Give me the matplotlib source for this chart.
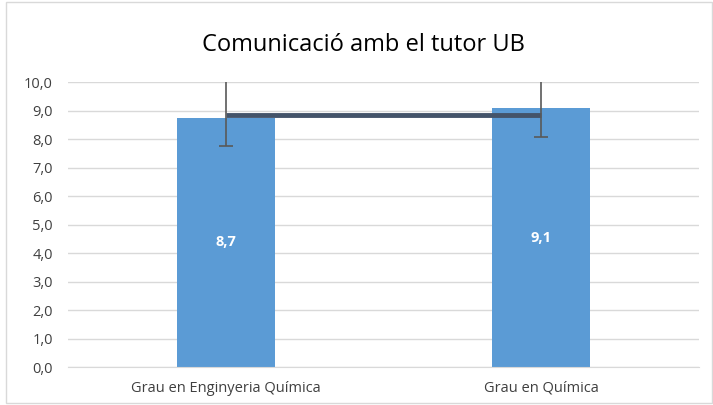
import numpy as np
import matplotlib.pyplot as plt
from matplotlib.patches import Rectangle

categories = ["Grau en Enginyeria Química", "Grau en Química"]
values = np.array([8.75, 9.08])
err_low = np.array([1.0, 1.0])
err_high = np.array([1.5, 1.5])  # surten per damunt de l'eix (retallades a 10)
mitjana = 8.85
labels = ["8,7", "9,1"]
yticks = np.arange(0, 11, 1)

plt.rcParams['font.family'] = ['Open Sans', 'DejaVu Sans']

fig = plt.figure(figsize=(7.13, 4.05), dpi=100)
ax = fig.add_axes([0.0954, 0.0938, 0.885, 0.7037])

x = np.arange(len(categories))
ax.bar(x, values, width=0.31, color="#5B9BD5", zorder=2)
ax.errorbar(x, values, yerr=[err_low, err_high], fmt="none", ecolor="#595959",
            elinewidth=1.2, capsize=5, capthick=1.2, zorder=4)
ax.plot(x, [mitjana, mitjana], color="#44546A", linewidth=3.5, zorder=3,
        solid_capstyle="butt")

for xi, v, lab in zip(x, values, labels):
    ax.text(xi, v / 2, lab, ha="center", va="center", color="white",
            fontsize=10.5, fontweight="bold", zorder=5)

ax.set_xlim(-0.5, 1.5)
ax.set_ylim(0, 10)
ax.set_yticks(yticks)
ax.set_yticklabels([f"{t:.1f}".replace(".", ",") for t in yticks])
ax.set_xticks(x)
ax.set_xticklabels(categories)
ax.tick_params(axis="both", length=0, labelsize=10.5, colors="#404040")
ax.tick_params(axis="x", pad=10)
ax.tick_params(axis="y", pad=11)
ax.grid(axis="y", color="#D9D9D9", linewidth=1, zorder=0)
for s in ["top", "right", "left"]:
    ax.spines[s].set_visible(False)
ax.spines["bottom"].set_color("#D9D9D9")

fig.text(0.51, 0.89, "Comunicació amb el tutor UB", ha="center", va="center",
         fontsize=17, color="#000000")

fig.patches.append(Rectangle((0.008, 0.005), 0.99, 0.99, transform=fig.transFigure,
                             fill=False, edgecolor="#D9D9D9", linewidth=1))

fig.savefig("out.png", dpi=100)
